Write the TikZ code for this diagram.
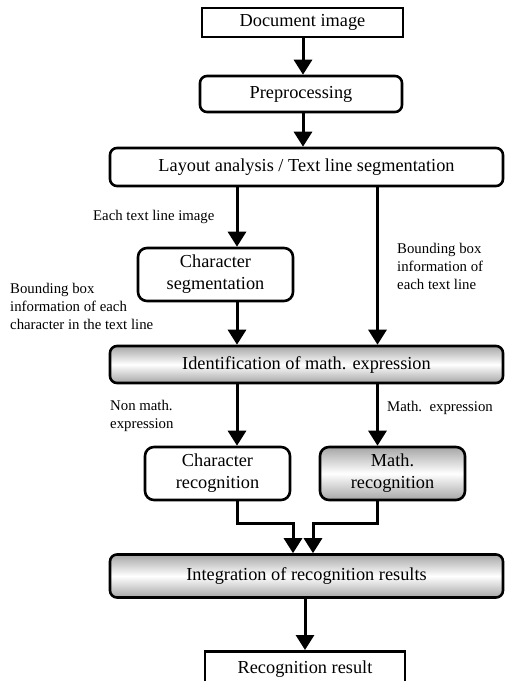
\documentclass[tikz,border=0pt]{standalone}
\usepackage{fontspec}
\setmainfont{Liberation Serif}
\usetikzlibrary{arrows.meta}
\begin{document}
\begin{tikzpicture}[x=1pt,y=-1pt,
  box/.style={draw,line width=2.6pt,inner sep=0pt,align=center,font=\fontsize{18.3}{22}\selectfont,fill=white},
  rbox/.style={box,rounded corners=7pt},
  sbox/.style={rbox,top color=gray!70,bottom color=gray!70,middle color=white},
  lbl/.style={font=\fontsize{14.8}{17.8}\selectfont,align=left,inner sep=0pt},
  arr/.style={line width=3pt,-{Triangle[width=18pt,length=15pt]}}]
\useasboundingbox (0,0) rectangle (505,681);
\node[box,minimum width=201pt,minimum height=29pt] (doc) at (302.5,22.5) {Document image};
\node[rbox,minimum width=202pt,minimum height=36pt] (pre) at (301,94) {Preprocessing};
\node[rbox,minimum width=393pt,minimum height=38pt] (lay) at (306.5,167) {Layout analysis / Text line segmentation};
\node[rbox,minimum width=155pt,minimum height=53pt,rounded corners=9pt] (cseg) at (215.5,274.5) {Character\\segmentation};
\node[sbox,minimum width=393pt,minimum height=37pt] (ident) at (306.5,364.5) {Identification of math. expression};
\node[rbox,minimum width=145pt,minimum height=53pt,rounded corners=9pt] (crec) at (217.5,473.5) {Character\\recognition};
\node[sbox,minimum width=145pt,minimum height=53pt,rounded corners=9pt] (mrec) at (392.5,473.5) {Math.\\recognition};
\node[sbox,minimum width=393pt,minimum height=43pt] (integ) at (306.5,576) {Integration of recognition results};
\node[box,minimum width=200pt,minimum height=36pt,anchor=north] (res) at (305,650) {\raisebox{2pt}{Recognition result}};

\coordinate (c1) at (237,0);
\coordinate (c2) at (377.5,0);
\coordinate (c3) at (293,0);
\coordinate (c4) at (313,0);
\coordinate (c5) at (303,0);
\coordinate (c6) at (305,0);

\draw[arr] (doc.south -| c5) -- (pre.north -| c5);
\draw[arr] (pre.south -| c5) -- (lay.north -| c5);
\draw[arr] (lay.south -| c1) -- (cseg.north -| c1);
\draw[arr] (lay.south -| c2) -- (ident.north -| c2);
\draw[arr] (cseg.south -| c1) -- (ident.north -| c1);
\draw[arr] (ident.south -| c1) -- (crec.north -| c1);
\draw[arr] (ident.south -| c2) -- (mrec.north -| c2);
\draw[arr] (crec.south -| c1) -- ++(0,22) -| (integ.north -| c3);
\draw[arr] (mrec.south -| c2) -- ++(0,22) -| (integ.north -| c4);
\draw[arr] (integ.south -| c6) -- (res.north -| c6);

\node[lbl,anchor=west] (l1) at (93,217) {Each text line image};
\node[lbl,anchor=north west] (l2) at (10,283) {Bounding box\\information of each\\character in the text line};
\node[lbl,anchor=north west] (l3) at (397,243) {Bounding box\\information of\\each text line};
\node[lbl,anchor=north west] (l4) at (110,400) {Non math.\\expression};
\node[lbl,anchor=west] (l5) at (387,408) {Math.\ \ expression};
\end{tikzpicture}
\end{document}
